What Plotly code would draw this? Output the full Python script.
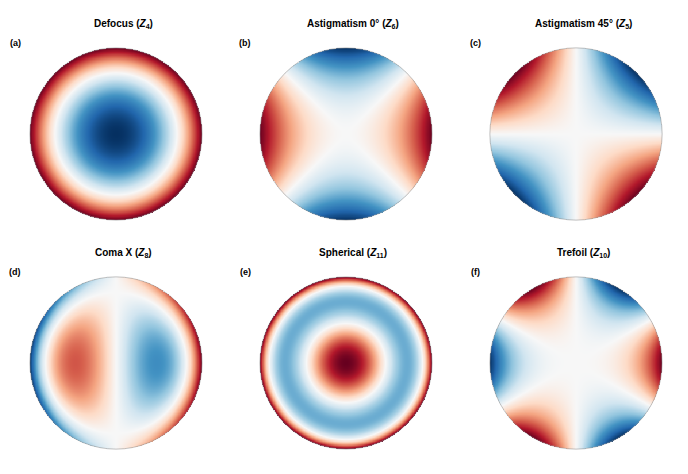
import numpy as np
import plotly.graph_objects as go

titles = ["Defocus (<i>Z</i><sub>4</sub>)", "Astigmatism 0° (<i>Z</i><sub>6</sub>)", "Astigmatism 45° (<i>Z</i><sub>5</sub>)",
          "Coma X (<i>Z</i><sub>8</sub>)", "Spherical (<i>Z</i><sub>11</sub>)", "Trefoil (<i>Z</i><sub>10</sub>)"]
labels = ["(a)", "(b)", "(c)", "(d)", "(e)", "(f)"]

n = 301
x = np.linspace(-1, 1, n)
X, Y = np.meshgrid(x, x)
R = np.hypot(X, Y)
T = np.arctan2(Y, X)
fields = [
    2*R**2 - 1,
    R**2*np.cos(2*T),
    -R**2*np.sin(2*T),
    (3*R**3 - 2*R)*np.cos(T),
    6*R**4 - 6*R**2 + 1,
    R**3*np.cos(3*T),
]
W, H = 688, 474
cx = [108, 338, 568]
cy = [126, 355]
rad = 87
fig = go.Figure()
ann = []
shapes = []
for i, Z in enumerate(fields):
    Zm = np.where(R <= 1, Z, np.nan)
    c, r = i % 3, i // 3
    k = "" if i == 0 else str(i+1)
    m = np.nanmax(np.abs(Zm))
    fig.add_trace(go.Heatmap(z=Zm, x=x, y=x, colorscale="RdBu", reversescale=True,
                             zmin=-m, zmax=m, showscale=False, xaxis="x"+k, yaxis="y"+k))
    xd = [(cx[c]-rad)/W, (cx[c]+rad)/W]
    yd = [1-(cy[r]+rad)/H, 1-(cy[r]-rad)/H]
    fig.layout["xaxis"+k] = dict(domain=xd, range=[-1.01, 1.01], visible=False)
    fig.layout["yaxis"+k] = dict(domain=yd, range=[-1.01, 1.01], visible=False)
    shapes.append(dict(type="circle", xref="x"+k, yref="y"+k, x0=-1, x1=1, y0=-1, y1=1,
                       line=dict(color="#999", width=0.6)))
    ann.append(dict(text="<b>"+titles[i]+"</b>", x=(cx[c]+7)/W, y=1-(cy[r]-110)/H, xref="paper", yref="paper",
                    xanchor="center", yanchor="middle", showarrow=False, font=dict(size=10)))
    ann.append(dict(text="<b>"+labels[i]+"</b>", x=(cx[c]-101)/W, y=1-(cy[r]-91)/H, xref="paper", yref="paper",
                    xanchor="center", yanchor="middle", showarrow=False, font=dict(size=9)))
fig.update_layout(width=W, height=H, margin=dict(l=0, r=0, t=0, b=0), plot_bgcolor="white",
                  paper_bgcolor="white", annotations=ann, shapes=shapes,
                  font=dict(family="Liberation Sans, Arial", color="black"))
fig.write_html("out.html")
